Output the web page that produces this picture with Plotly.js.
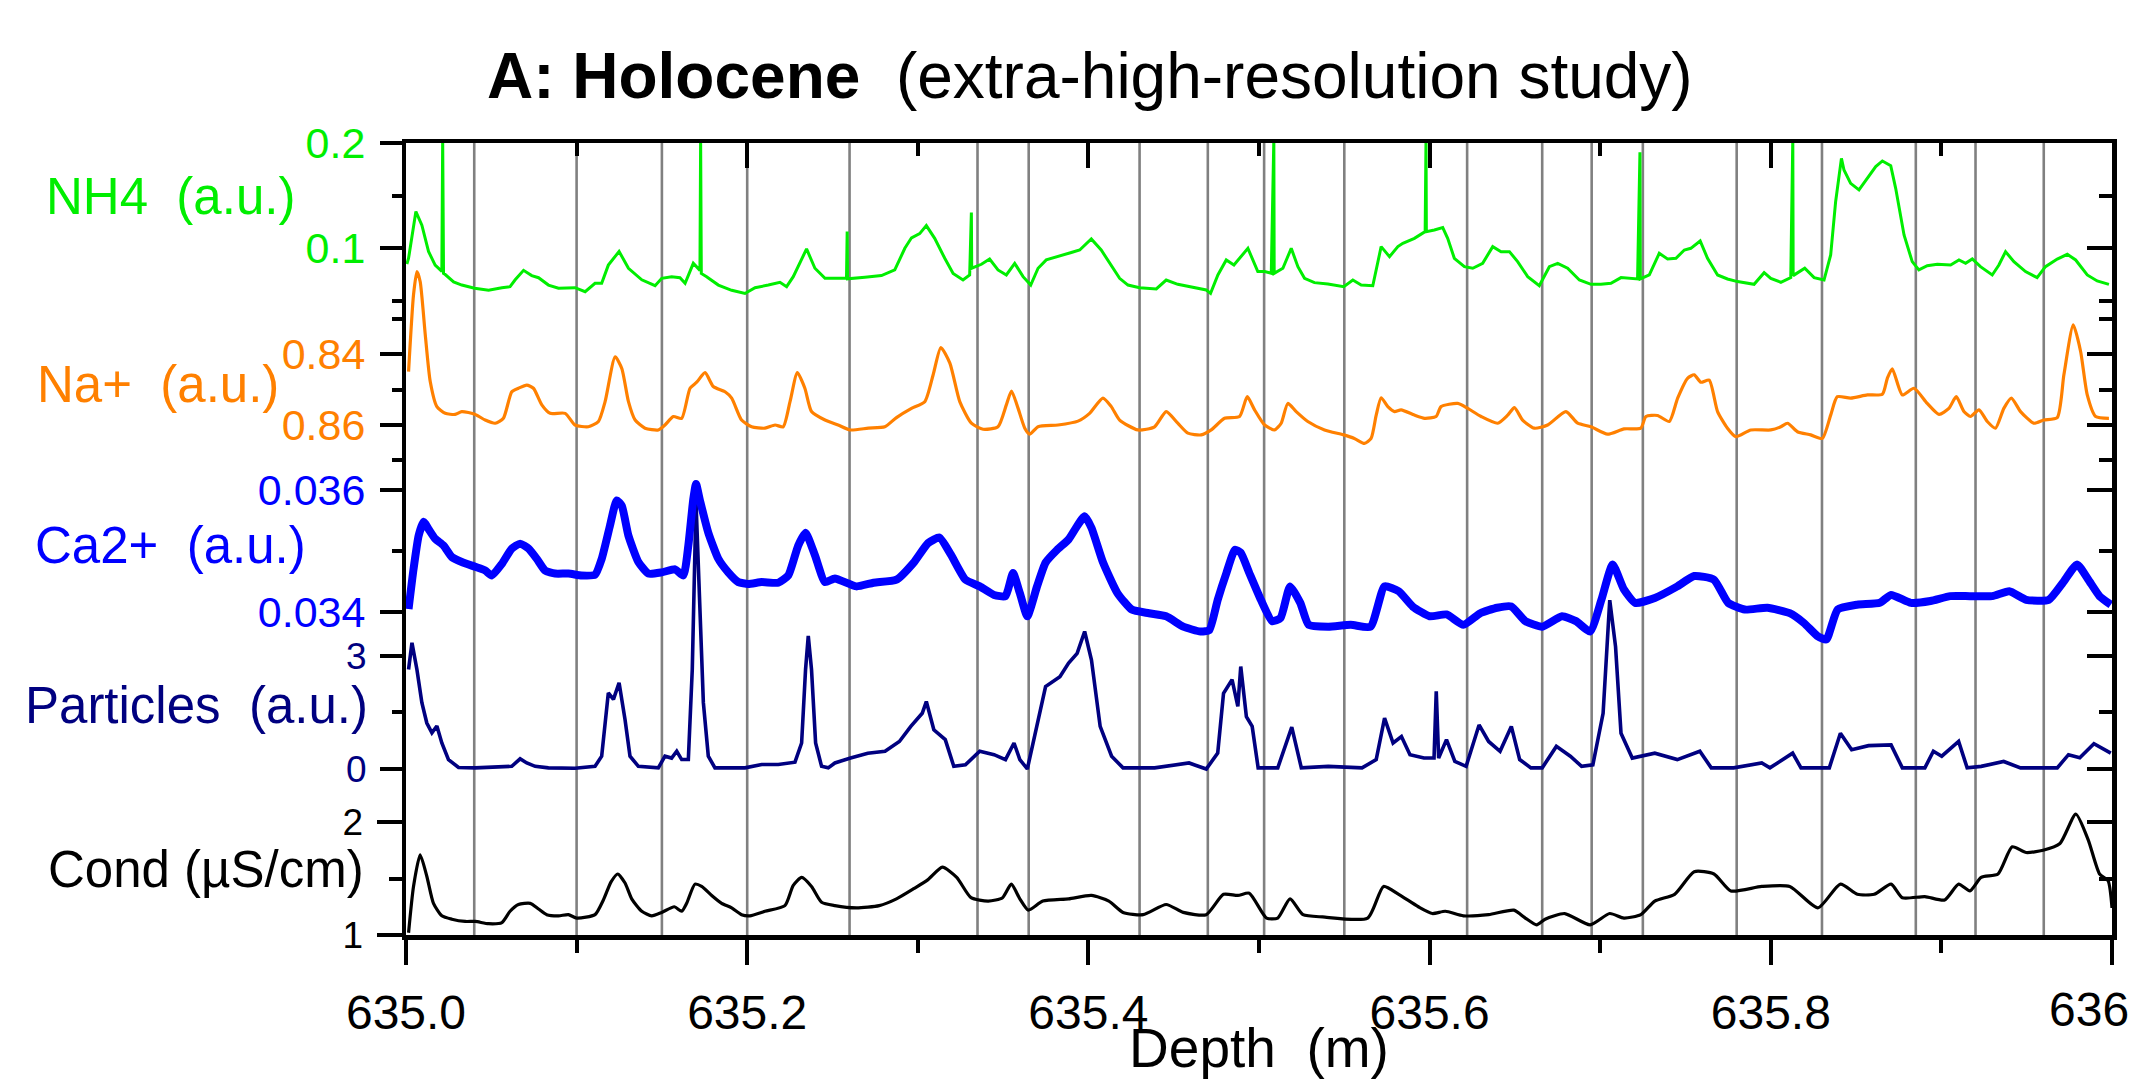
<!DOCTYPE html>
<html>
<head>
<meta charset="utf-8">
<script src="https://cdn.plot.ly/plotly-3.0.1.min.js"></script>
<style>html,body{margin:0;padding:0;background:#fff;}#chart{width:2133px;height:1079px;}</style>
</head>
<body>
<div id="chart"></div>
<script>
// ---------------- DATA (depth in m, values in series units) ----------------
const layerDepths = [635.040, 635.100, 635.150, 635.200, 635.260, 635.335, 635.365, 635.430, 635.470, 635.503,
  635.550, 635.622, 635.666, 635.695, 635.725, 635.780, 635.830, 635.885, 635.920, 635.960];

const xTickVals = [635.0, 635.2, 635.4, 635.6, 635.8, 636.0];
const xTickText = ['635.0', '635.2', '635.4', '635.6', '635.8', '636'];

const nh4Depth = [635.0005, 635.0015, 635.0058, 635.0093, 635.0132, 635.0171, 635.0210, 635.0215, 635.0220, 635.0230, 635.0279, 635.0327, 635.0402, 635.0484, 635.0562, 635.0610, 635.0640, 635.0689, 635.0737, 635.0777, 635.0835, 635.0894, 635.0991, 635.1050, 635.1108, 635.1147, 635.1186, 635.1249, 635.1304, 635.1382, 635.1460, 635.1499, 635.1557, 635.1606, 635.1636, 635.1684, 635.1723, 635.1727, 635.1731, 635.1762, 635.1831, 635.1909, 635.1987, 635.2046, 635.2124, 635.2192, 635.2231, 635.2270, 635.2348, 635.2397, 635.2456, 635.2533,
  635.2582, 635.2586, 635.2588, 635.2690, 635.2787, 635.2865, 635.2924, 635.2963, 635.3011, 635.3050, 635.3099, 635.3158, 635.3207, 635.3265, 635.3304, 635.3314, 635.3316, 635.3373, 635.3421, 635.3470, 635.3519, 635.3568, 635.3617, 635.3662, 635.3705, 635.3753, 635.3822, 635.3900, 635.3949, 635.4017, 635.4075, 635.4134, 635.4183, 635.4232, 635.4300, 635.4398, 635.4456, 635.4524, 635.4603, 635.4691, 635.4716, 635.4759, 635.4808, 635.4853, 635.4935, 635.4993,
  635.5033, 635.5072, 635.5087, 635.5089, 635.5140, 635.5189, 635.5228, 635.5267, 635.5325, 635.5404, 635.5497, 635.5550, 635.5599, 635.5667, 635.5716, 635.5765, 635.5814, 635.5843, 635.5911, 635.5974, 635.5979, 635.5981, 635.6028, 635.6077, 635.6106, 635.6145, 635.6204, 635.6253, 635.6311, 635.6370, 635.6419, 635.6468, 635.6516, 635.6575, 635.6643, 635.6702, 635.6751, 635.6809, 635.6878, 635.6946, 635.7004, 635.7063, 635.7122, 635.7219, 635.7233, 635.7235, 635.7288, 635.7346, 635.7395, 635.7444, 635.7493,
  635.7531, 635.7586, 635.7629, 635.7688, 635.7746, 635.7805, 635.7902, 635.7961, 635.8000, 635.8059, 635.8117, 635.8129, 635.8131, 635.8199, 635.8254, 635.8312, 635.8351, 635.8380, 635.8400, 635.8414, 635.8429, 635.8468, 635.8517, 635.8566, 635.8615, 635.8654, 635.8703, 635.8732, 635.8781, 635.8829, 635.8868, 635.8917, 635.8976, 635.9054, 635.9103, 635.9142, 635.9181, 635.9229, 635.9298, 635.9337, 635.9376, 635.9425, 635.9493, 635.9561, 635.9610, 635.9679, 635.9738, 635.9787, 635.9855, 635.9913, 635.9982];
const nh4 = [0.085, 0.0905, 0.135, 0.122, 0.097, 0.084, 0.078, 0.205, 0.076, 0.075, 0.068, 0.065, 0.062, 0.060, 0.0625, 0.0635, 0.070, 0.079, 0.074, 0.072, 0.065, 0.062, 0.0625, 0.0587, 0.0667, 0.0667, 0.084, 0.097, 0.081, 0.070, 0.0644, 0.0714, 0.073, 0.072, 0.0667, 0.0857, 0.079, 0.205, 0.076, 0.073, 0.065, 0.060, 0.057, 0.0625, 0.065, 0.0676, 0.0635, 0.073, 0.0994, 0.081, 0.0714, 0.071,
  0.0714, 0.116, 0.071, 0.0725, 0.074, 0.0794, 0.100, 0.110, 0.114, 0.1216, 0.1095, 0.0905, 0.076, 0.0698, 0.0746, 0.134, 0.081, 0.0848, 0.0898, 0.0794, 0.0746, 0.0857, 0.073, 0.065, 0.081, 0.089, 0.092, 0.096, 0.0984, 0.1089, 0.0984, 0.0841, 0.0714, 0.065, 0.0625, 0.0613, 0.0698, 0.0657, 0.0629, 0.0603, 0.0571, 0.0746, 0.0889, 0.0841, 0.100, 0.0778,
  0.0778, 0.0762, 0.205, 0.0762, 0.081, 0.100, 0.0825, 0.0714, 0.0673, 0.066, 0.0635, 0.0698, 0.065, 0.0644, 0.1016, 0.0921, 0.1016, 0.1048, 0.1095, 0.1159, 0.205, 0.1159, 0.1175, 0.1197, 0.1095, 0.0905, 0.0825, 0.081, 0.0857, 0.1016, 0.0968, 0.0968, 0.0873, 0.073, 0.0644, 0.0825, 0.0857, 0.081, 0.0698, 0.0657, 0.0657, 0.0667, 0.0721, 0.0708, 0.1914, 0.0708, 0.0746, 0.0952, 0.0898, 0.0905, 0.0984,
  0.100, 0.107, 0.0905, 0.0746, 0.0708, 0.0683, 0.0657, 0.0768, 0.0714, 0.0676, 0.0721, 0.205, 0.074, 0.081, 0.0721, 0.0698, 0.0937, 0.1444, 0.1714, 0.1857, 0.1746, 0.1619, 0.1556, 0.1667, 0.1778, 0.1832, 0.1787, 0.1571, 0.1127, 0.0873, 0.0794, 0.0835, 0.0848, 0.0841, 0.0889, 0.0857, 0.0898, 0.0825, 0.0746, 0.0841, 0.0968, 0.0873, 0.0778, 0.0721, 0.0825, 0.0898, 0.0943, 0.0889, 0.0746, 0.0689, 0.0657];

const naDepth = [635.0015, 635.0044, 635.0064, 635.0083, 635.0113, 635.0142, 635.0181, 635.0230, 635.0288, 635.0327, 635.0406, 635.0464, 635.0523, 635.0571, 635.0620, 635.0659, 635.0708, 635.0747, 635.0796, 635.0845, 635.0933, 635.0991, 635.1069, 635.1128, 635.1167, 635.1226, 635.1265, 635.1304, 635.1343, 635.1401, 635.1479, 635.1518, 635.1567, 635.1616, 635.1665, 635.1704, 635.1753, 635.1801, 635.1870, 635.1909, 635.1967, 635.2026, 635.2104, 635.2163, 635.2211, 635.2251, 635.2294, 635.2338, 635.2377, 635.2456,
  635.2533, 635.2602, 635.2710, 635.2807, 635.2875, 635.2963, 635.3041, 635.3090, 635.3135, 635.3188, 635.3246, 635.3314, 635.3383, 635.3470, 635.3519, 635.3549, 635.3588, 635.3627, 635.3656, 635.3705, 635.3822, 635.3939, 635.4007, 635.4085, 635.4134, 635.4183, 635.4290, 635.4388, 635.4456, 635.4524, 635.4583, 635.4661, 635.4720, 635.4798, 635.4886, 635.4931, 635.4974,
  635.5033, 635.5091, 635.5130, 635.5169, 635.5218, 635.5286, 635.5384, 635.5497, 635.5559, 635.5618, 635.5657, 635.5687, 635.5716, 635.5755, 635.5794, 635.5833, 635.5911, 635.5971, 635.6038, 635.6067, 635.6165, 635.6224, 635.6302, 635.6399, 635.6458, 635.6497, 635.6545, 635.6614, 635.6692, 635.6799, 635.6868, 635.6946, 635.7043, 635.7140, 635.7238, 635.7268, 635.7336, 635.7405, 635.7454, 635.7512,
  635.7551, 635.7590, 635.7639, 635.7688, 635.7746, 635.7795, 635.7883, 635.8000, 635.8059, 635.8098, 635.8156, 635.8234, 635.8302, 635.8351, 635.8390, 635.8468, 635.8566, 635.8654, 635.8683, 635.8712, 635.8771, 635.8839, 635.8917, 635.8986, 635.9044, 635.9087, 635.9132, 635.9171, 635.9220, 635.9269, 635.9317, 635.9366, 635.9410, 635.9464, 635.9542, 635.9600, 635.9679, 635.9718, 635.9773, 635.9816, 635.9855, 635.9904, 635.9982];
const na = [0.8449, 0.8232, 0.8166, 0.8194, 0.8345, 0.8477, 0.8548, 0.8567, 0.857, 0.8562, 0.857, 0.8586, 0.8595, 0.8581, 0.8506, 0.8496, 0.8487, 0.8496, 0.8543, 0.8567, 0.8567, 0.86, 0.8605, 0.859, 0.8534, 0.8407, 0.844, 0.8534, 0.8586, 0.8609, 0.8614, 0.86, 0.8576, 0.8581, 0.8496, 0.8479, 0.8452, 0.8491, 0.8506, 0.8524, 0.8586, 0.8605, 0.8609, 0.86, 0.8605, 0.8534, 0.8452, 0.8496, 0.8562, 0.8586,
  0.86, 0.8614, 0.8609, 0.8605, 0.8579, 0.8553, 0.8534, 0.8458, 0.8381, 0.8425, 0.8534, 0.8595, 0.8612, 0.8605, 0.8543, 0.8504, 0.8553, 0.8609, 0.8626, 0.8605, 0.86, 0.8589, 0.8567, 0.8524, 0.8548, 0.8586, 0.8614, 0.8605, 0.8562, 0.8595, 0.8623, 0.8628, 0.8614, 0.8581, 0.8576, 0.852, 0.8557,
  0.86, 0.8614, 0.8595, 0.8539, 0.8562, 0.859, 0.8614, 0.8628, 0.8638, 0.8652, 0.8638, 0.8572, 0.8523, 0.8548, 0.8562, 0.8557, 0.8572, 0.8581, 0.8576, 0.8548, 0.8539, 0.8553, 0.8576, 0.8595, 0.8572, 0.8551, 0.8586, 0.8609, 0.86, 0.8562, 0.8595, 0.8605, 0.8626, 0.8611, 0.8609, 0.8576, 0.8573, 0.859, 0.8524, 0.8468,
  0.8458, 0.8479, 0.8473, 0.8562, 0.8609, 0.8633, 0.8614, 0.8614, 0.8605, 0.8595, 0.8619, 0.8628, 0.8638, 0.8572, 0.852, 0.8524, 0.8515, 0.8513, 0.8468, 0.8441, 0.8515, 0.8496, 0.8539, 0.857, 0.8553, 0.852, 0.8562, 0.8576, 0.8557, 0.859, 0.8609, 0.8553, 0.8524, 0.8562, 0.8595, 0.8586, 0.8579, 0.8458, 0.8317, 0.8392, 0.8515, 0.8576, 0.8581];

const caDepth = [635.0015, 635.0044, 635.0074, 635.0103, 635.0132, 635.0171, 635.0220, 635.0269, 635.0327, 635.0406, 635.0464, 635.0503, 635.0562, 635.0620, 635.0669, 635.0718, 635.0767, 635.0815, 635.0874, 635.0952, 635.1030, 635.1108, 635.1147, 635.1196, 635.1235, 635.1265, 635.1304, 635.1362, 635.1421, 635.1499, 635.1577, 635.1626, 635.1655, 635.1684, 635.1700, 635.1723, 635.1772, 635.1831, 635.1889, 635.1948, 635.2006, 635.2085, 635.2182, 635.2241, 635.2299, 635.2342, 635.2397, 635.2456, 635.2514,
  635.2640, 635.2741, 635.2875, 635.2976, 635.3060, 635.3127, 635.3194, 635.3279, 635.3363, 635.3447, 635.3514, 635.3558, 635.3598, 635.3642, 635.3699, 635.3749, 635.3817, 635.3884, 635.3934, 635.3978, 635.4018, 635.4086, 635.4170, 635.4254, 635.4355, 635.4456, 635.4556, 635.4657, 635.4708, 635.4758, 635.4809, 635.4859, 635.4893, 635.4943,
  635.5011, 635.5077, 635.5126, 635.5182, 635.5242, 635.5291, 635.5406, 635.5538, 635.5654, 635.5736, 635.5819, 635.5901, 635.6000, 635.6099, 635.6198, 635.6297, 635.6396, 635.6479, 635.6561, 635.6660, 635.6776, 635.6858, 635.6941, 635.7007, 635.7073, 635.7139, 635.7205, 635.7320, 635.7452, 635.7551, 635.7667, 635.7750, 635.7848, 635.7980, 635.8111, 635.8194, 635.8276, 635.8326, 635.8392, 635.8507, 635.8639, 635.8705, 635.8821, 635.8936, 635.9052, 635.9167, 635.9299, 635.9398, 635.9497, 635.9629, 635.9712, 635.9795, 635.9861, 635.9927, 635.9993];
const ca = [0.03405, 0.0347, 0.03525, 0.03548, 0.03536, 0.0352, 0.03509, 0.0349, 0.03482, 0.03474, 0.03468, 0.0346, 0.03479, 0.03504, 0.03512, 0.03504, 0.03487, 0.03468, 0.03463, 0.03463, 0.0346, 0.03461, 0.03487, 0.03542, 0.03583, 0.03574, 0.03525, 0.03482, 0.03463, 0.03465, 0.0347, 0.0346, 0.03509, 0.03585, 0.0361, 0.03583, 0.0353, 0.03487, 0.03465, 0.03449, 0.03446, 0.03449, 0.03448, 0.0346, 0.03509, 0.0353, 0.03493, 0.03449, 0.03455,
  0.03442, 0.03448, 0.03453, 0.03481, 0.03513, 0.03522, 0.03494, 0.03453, 0.03442, 0.03428, 0.03426, 0.03464, 0.03431, 0.03393, 0.03442, 0.03481, 0.03502, 0.03519, 0.03541, 0.03557, 0.03538, 0.03481, 0.03431, 0.03404, 0.03398, 0.03393, 0.03376, 0.03368, 0.0337, 0.0342, 0.03464, 0.03502, 0.03497, 0.03464,
  0.0342, 0.03385, 0.0339, 0.03442, 0.03415, 0.03379, 0.03376, 0.03379, 0.03376, 0.03442, 0.03434, 0.03409, 0.03393, 0.03396, 0.03379, 0.03398, 0.03407, 0.03409, 0.03385, 0.03376, 0.03393, 0.03385, 0.03368, 0.0342, 0.03478, 0.03437, 0.03415, 0.03423, 0.03442, 0.03459, 0.03453, 0.03415, 0.03404, 0.03407, 0.03398, 0.03382, 0.0336, 0.03355, 0.03404, 0.03412, 0.03415, 0.03428, 0.03415, 0.03418, 0.03426, 0.03426, 0.03426, 0.03434, 0.0342, 0.0342, 0.03448, 0.03478, 0.03453, 0.03426, 0.03412];

const partDepth = [635.0015, 635.0035, 635.0064, 635.0093, 635.0122, 635.0152, 635.0181, 635.0210, 635.0249, 635.0308, 635.0406, 635.0523, 635.0620, 635.0669, 635.0708, 635.0757, 635.0835, 635.0991, 635.1108, 635.1147, 635.1186, 635.1216, 635.1249, 635.1284, 635.1313, 635.1362, 635.1479, 635.1518, 635.1557, 635.1587, 635.1616, 635.1655, 635.1678, 635.1700, 635.1723, 635.1743, 635.1772, 635.1811, 635.1987, 635.2085, 635.2182, 635.2280, 635.2319, 635.2342, 635.2358, 635.2377, 635.2401, 635.2436, 635.2475, 635.2514,
  635.2606, 635.2707, 635.2808, 635.2892, 635.2959, 635.3026, 635.3050, 635.3094, 635.3161, 635.3211, 635.3279, 635.3363, 635.3447, 635.3514, 635.3564, 635.3598, 635.3642, 635.3699, 635.3749, 635.3833, 635.3884, 635.3934, 635.3978, 635.4018, 635.4069, 635.4136, 635.4203, 635.4388, 635.4590, 635.4691, 635.4758, 635.4792, 635.4842, 635.4876, 635.4893, 635.4926, 635.4960,
  635.4995, 635.5110, 635.5192, 635.5248, 635.5406, 635.5604, 635.5687, 635.5736, 635.5786, 635.5835, 635.5885, 635.5967, 635.6026, 635.6039, 635.6053, 635.6099, 635.6148, 635.6214, 635.6290, 635.6346, 635.6413, 635.6479, 635.6528, 635.6594, 635.6660, 635.6743, 635.6825, 635.6891, 635.6957, 635.7017, 635.7056, 635.7090, 635.7122, 635.7188, 635.7320, 635.7452, 635.7584, 635.7651, 635.7782, 635.7947, 635.7995, 635.8128, 635.8177, 635.8343, 635.8408, 635.8474, 635.8573, 635.8705, 635.8771, 635.8903, 635.8953, 635.9002, 635.9101, 635.9151, 635.9233, 635.9365, 635.9464, 635.9679, 635.9745, 635.9811, 635.9894, 635.9993];
const particles = [2.64, 3.35, 2.64, 1.76, 1.22, 0.96, 1.14, 0.69, 0.25, 0.04, 0.03, 0.05, 0.07, 0.27, 0.16, 0.07, 0.03, 0.02, 0.07, 0.34, 2.02, 1.85, 2.29, 1.31, 0.34, 0.07, 0.03, 0.34, 0.29, 0.47, 0.25, 0.25, 2.64, 7.08, 4.42, 1.76, 0.34, 0.03, 0.03, 0.12, 0.12, 0.18, 0.69, 2.64, 3.53, 2.64, 0.69, 0.07, 0.03, 0.16,
  0.29, 0.42, 0.47, 0.73, 1.13, 1.48, 1.79, 1.04, 0.78, 0.07, 0.11, 0.47, 0.38, 0.25, 0.69, 0.25, 0.0, 1.13, 2.19, 2.45, 2.81, 3.07, 3.65, 2.89, 1.13, 0.34, 0.03, 0.03, 0.16, 0.0, 0.42, 2.01, 2.37, 1.66, 2.72, 1.39, 1.13,
  0.03, 0.03, 1.11, 0.03, 0.07, 0.03, 0.25, 1.35, 0.69, 0.86, 0.38, 0.29, 0.29, 2.06, 0.29, 0.78, 0.2, 0.07, 1.17, 0.73, 0.47, 1.13, 0.25, 0.03, 0.03, 0.6, 0.34, 0.07, 0.11, 1.48, 4.48, 3.25, 0.95, 0.29, 0.42, 0.25, 0.47, 0.03, 0.03, 0.16, 0.03, 0.42, 0.03, 0.03, 0.95, 0.51, 0.62, 0.64, 0.03, 0.03, 0.47, 0.34, 0.73, 0.03, 0.07, 0.2, 0.03, 0.03, 0.38, 0.3, 0.67, 0.42];

const condDepth = [635.0015, 635.0044, 635.0083, 635.0122, 635.0161, 635.0210, 635.0269, 635.0347, 635.0406, 635.0484, 635.0562, 635.0610, 635.0659, 635.0728, 635.0777, 635.0825, 635.0894, 635.0952, 635.1001, 635.1108, 635.1157, 635.1202, 635.1241, 635.1284, 635.1323, 635.1382, 635.1440, 635.1499, 635.1573, 635.1616, 635.1645, 635.1694, 635.1733, 635.1792, 635.1850, 635.1909, 635.1967, 635.2016, 635.2104, 635.2221, 635.2270, 635.2319, 635.2377, 635.2436, 635.2514,
  635.2640, 635.2774, 635.2875, 635.2976, 635.3060, 635.3144, 635.3228, 635.3312, 635.3413, 635.3497, 635.3548, 635.3598, 635.3648, 635.3733, 635.3884, 635.4018, 635.4120, 635.4203, 635.4321, 635.4456, 635.4556, 635.4691, 635.4792, 635.4876, 635.4943,
  635.5044, 635.5110, 635.5182, 635.5258, 635.5373, 635.5637, 635.5730, 635.5819, 635.5934, 635.6016, 635.6092, 635.6198, 635.6346, 635.6494, 635.6561, 635.6627, 635.6677, 635.6792, 635.6941, 635.7056, 635.7139, 635.7238, 635.7320, 635.7436, 635.7551, 635.7667, 635.7766, 635.7947, 635.8111, 635.8276, 635.8408, 635.8507, 635.8606, 635.8705, 635.8771, 635.8903, 635.9019, 635.9101, 635.9167, 635.9233, 635.9332, 635.9415, 635.9497, 635.9596, 635.9695, 635.9788, 635.9861, 635.9927, 635.9977, 636.0000];
const cond = [1.02, 1.43, 1.71, 1.52, 1.28, 1.17, 1.14, 1.12, 1.12, 1.10, 1.11, 1.21, 1.27, 1.28, 1.23, 1.18, 1.17, 1.18, 1.15, 1.18, 1.31, 1.47, 1.54, 1.46, 1.32, 1.21, 1.17, 1.2, 1.25, 1.21, 1.28, 1.45, 1.43, 1.35, 1.28, 1.24, 1.18, 1.17, 1.21, 1.26, 1.44, 1.51, 1.43, 1.29, 1.26,
  1.24, 1.26, 1.32, 1.41, 1.49, 1.6, 1.51, 1.33, 1.3, 1.33, 1.45, 1.32, 1.22, 1.3, 1.32, 1.35, 1.3, 1.2, 1.18, 1.27, 1.2, 1.18, 1.36, 1.35, 1.37,
  1.15, 1.15, 1.32, 1.18, 1.16, 1.15, 1.43, 1.36, 1.25, 1.19, 1.21, 1.17, 1.18, 1.22, 1.15, 1.09, 1.14, 1.19, 1.09, 1.19, 1.15, 1.18, 1.3, 1.36, 1.56, 1.54, 1.39, 1.43, 1.43, 1.24, 1.45, 1.36, 1.36, 1.45, 1.33, 1.34, 1.31, 1.45, 1.39, 1.51, 1.54, 1.78, 1.73, 1.75, 1.81, 2.07, 1.84, 1.54, 1.48, 1.24];

// tick values for each stacked scale
const nh4Ticks = [0.1, 0.2], nh4Minor = [0.05, 0.15];
const naTicks = [0.84, 0.86], naMinor = [0.83, 0.85, 0.87];
const caTicks = [0.034, 0.036], caMinor = [0.035];
const partTicks = [0, 3], partMinor = [1.5];
const condTicks = [1, 2], condMinor = [1.5];
const xMinor = [635.1, 635.3, 635.5, 635.7, 635.9];

// ---------------- STYLE ----------------
const FONT = 'Liberation Sans, Arial, Helvetica, sans-serif';
const C = {nh4: '#00ee00', na: '#ff8000', ca: '#0000ff', part: '#000080', cond: '#000000'};
const TL = 25, TLm = 13, TW = 4, LW = 4.5;

function leftAxis(range, tv, mv, color, fs, extra) {
  return Object.assign({
    range: range, anchor: 'x', side: 'left', showgrid: false, zeroline: false,
    tickmode: 'array', tickvals: tv, ticktext: tv.map(String),
    ticks: 'outside', ticklen: TL, tickwidth: TW, tickcolor: '#000',
    minor: {tickmode: 'array', tickvals: mv, ticks: 'outside', ticklen: TLm, tickwidth: TW, tickcolor: '#000', showgrid: false},
    tickfont: {family: FONT, size: fs, color: color}, ticklabelstandoff: 6,
    showline: false, fixedrange: true
  }, extra || {});
}
function rightAxis(range, tv, mv, extra) {
  return Object.assign({
    range: range, anchor: 'x', side: 'right', overlaying: 'y', showgrid: false, zeroline: false,
    tickmode: 'array', tickvals: tv, showticklabels: false,
    ticks: 'inside', ticklen: TL, tickwidth: TW, tickcolor: '#000',
    minor: {tickmode: 'array', tickvals: mv, ticks: 'inside', ticklen: TLm, tickwidth: TW, tickcolor: '#000', showgrid: false},
    showline: false, fixedrange: true
  }, extra || {});
}

const rCond = [1, 8.009], rPart = [-4.407, 16.618], rCa = [0.0287049, 0.0416885], rNa = [1.004272, 0.780226], rNh4 = [-0.554, 0.2003];

const traces = [
  {x: nh4Depth, y: nh4, yaxis: 'y5', type: 'scatter', mode: 'lines', line: {color: C.nh4, width: 3}, hoverinfo: 'skip'},
  {x: naDepth, y: na, yaxis: 'y4', type: 'scatter', mode: 'lines', line: {color: C.na, width: 3.2, shape: 'spline', smoothing: 0.6}, hoverinfo: 'skip'},
  {x: caDepth, y: ca, yaxis: 'y3', type: 'scatter', mode: 'lines', line: {color: C.ca, width: 8, shape: 'spline', smoothing: 0.5}, hoverinfo: 'skip'},
  {x: partDepth, y: particles, yaxis: 'y2', type: 'scatter', mode: 'lines', line: {color: C.part, width: 3.6}, hoverinfo: 'skip'},
  {x: condDepth, y: cond, yaxis: 'y', type: 'scatter', mode: 'lines', line: {color: C.cond, width: 3.2, shape: 'spline', smoothing: 0.6}, hoverinfo: 'skip'},
  // empty carriers for the mirrored frame axes
  {x: [], y: [], xaxis: 'x2', yaxis: 'y', type: 'scatter', mode: 'lines', hoverinfo: 'skip'},
  {x: [], y: [], yaxis: 'y6', type: 'scatter', mode: 'lines', hoverinfo: 'skip'},
  {x: [], y: [], yaxis: 'y7', type: 'scatter', mode: 'lines', hoverinfo: 'skip'},
  {x: [], y: [], yaxis: 'y8', type: 'scatter', mode: 'lines', hoverinfo: 'skip'},
  {x: [], y: [], yaxis: 'y9', type: 'scatter', mode: 'lines', hoverinfo: 'skip'},
  {x: [], y: [], yaxis: 'y10', type: 'scatter', mode: 'lines', hoverinfo: 'skip'}
];

const shapes = layerDepths.map(d => ({
  type: 'line', xref: 'x', yref: 'paper', x0: d, x1: d, y0: 0, y1: 1,
  line: {color: '#808080', width: 2.6}, layer: 'below'
}));

function label(text, xp, yp, color) {
  return {text: text, xref: 'paper', yref: 'paper', x: xp, y: yp, xanchor: 'right', yanchor: 'middle',
    showarrow: false, font: {family: FONT, size: 51, color: color}};
}

// the last x tick label ("636") sits at the right page edge; draw it pulled just inside the page
const lastTickLabel = {text: xTickText[xTickText.length - 1], xref: 'paper', yref: 'paper', x: 1, y: -0.0935,
  xanchor: 'right', yanchor: 'middle', xshift: 19, showarrow: false, font: {family: FONT, size: 48, color: '#000'}};

const layout = {
  width: 2133, height: 1079,
  margin: {l: 406, r: 21, t: 143, b: 144, pad: 0},
  paper_bgcolor: '#ffffff', plot_bgcolor: '#ffffff',
  showlegend: false,
  font: {family: FONT, color: '#000'},
  title: {
    text: '<b>A: Holocene</b>\u00a0\u00a0(extra-high-resolution study)',
    font: {family: FONT, size: 64, color: '#000'},
    xref: 'container', x: 0.2283, xanchor: 'left',
    yref: 'container', y: 0.93, yanchor: 'middle'
  },
  xaxis: {
    range: [635, 636], side: 'bottom', anchor: 'y', showgrid: false, zeroline: false,
    tickmode: 'array', tickvals: xTickVals, ticktext: xTickText.map((t, i) => i === xTickText.length - 1 ? '' : t),
    ticks: 'outside', ticklen: TL, tickwidth: TW, tickcolor: '#000',
    minor: {tickmode: 'array', tickvals: xMinor, ticks: 'outside', ticklen: TLm, tickwidth: TW, tickcolor: '#000', showgrid: false},
    tickfont: {family: FONT, size: 48, color: '#000'}, ticklabelstandoff: 7,
    showline: true, linecolor: '#000', linewidth: LW,
    title: {text: 'Depth\u00a0\u00a0(m)', font: {family: FONT, size: 55, color: '#000'}, standoff: 24},
    fixedrange: true
  },
  xaxis2: {
    range: [635, 636], side: 'top', overlaying: 'x', anchor: 'y', showgrid: false, zeroline: false,
    tickmode: 'array', tickvals: xTickVals, showticklabels: false,
    ticks: 'inside', ticklen: TL, tickwidth: TW, tickcolor: '#000',
    minor: {tickmode: 'array', tickvals: xMinor, ticks: 'inside', ticklen: TLm, tickwidth: TW, tickcolor: '#000', showgrid: false},
    showline: true, linecolor: '#000', linewidth: LW, fixedrange: true
  },
  yaxis: leftAxis(rCond, condTicks, condMinor, C.cond, 37, {showline: true, linecolor: '#000', linewidth: LW}),
  yaxis2: leftAxis(rPart, partTicks, partMinor, C.part, 37, {overlaying: 'y'}),
  yaxis3: leftAxis(rCa, caTicks, caMinor, C.ca, 43, {overlaying: 'y'}),
  yaxis4: leftAxis(rNa, naTicks, naMinor, C.na, 43, {overlaying: 'y'}),
  yaxis5: leftAxis(rNh4, nh4Ticks, nh4Minor, C.nh4, 43, {overlaying: 'y'}),
  yaxis6: rightAxis(rCond, condTicks, condMinor, {showline: true, linecolor: '#000', linewidth: LW}),
  yaxis7: rightAxis(rPart, partTicks, partMinor),
  yaxis8: rightAxis(rCa, caTicks, caMinor),
  yaxis9: rightAxis(rNa, naTicks, naMinor),
  yaxis10: rightAxis(rNh4, nh4Ticks, nh4Minor),
  shapes: shapes,
  annotations: [
    label('NH4 \u00a0(a.u.)', -0.0639, 0.933, C.nh4),
    label('Na+ \u00a0(a.u.)', -0.0733, 0.6957, C.na),
    label('Ca2+ \u00a0(a.u.)', -0.0574, 0.4924, C.ca),
    label('Particles \u00a0(a.u.)', -0.0211, 0.2904, C.part),
    label('Cond (\u00b5S/cm)', -0.0234, 0.0821, C.cond),
    lastTickLabel
  ]
};

Plotly.newPlot('chart', traces, layout, {staticPlot: true, displayModeBar: false});
</script>
</body>
</html>
